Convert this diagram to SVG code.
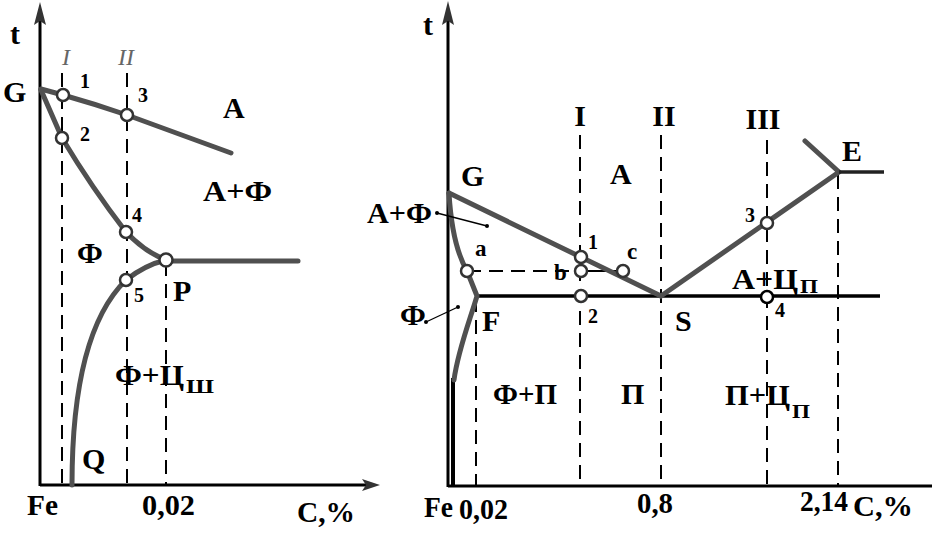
<svg xmlns="http://www.w3.org/2000/svg" width="938" height="533" viewBox="0 0 938 533">
<style>
.ax{stroke:#000;stroke-width:3;fill:none}
.cv{stroke:#505050;stroke-width:5;fill:none;stroke-linejoin:round;stroke-linecap:round}
.bk{stroke:#000;stroke-width:3.5;fill:none}
.ds{stroke:#000;stroke-width:2;fill:none;stroke-dasharray:14,8}
.pt{fill:#fff;stroke:#333;stroke-width:2.5}
.arr{fill:#333}
text{font-family:"Liberation Serif","Times New Roman",serif;font-weight:bold;fill:#000}
.big{font-size:30px}
.num{font-size:20px}
.lc{font-size:23px}
.sub{font-size:19px}
.it{font-style:italic;font-weight:normal;fill:#666;font-size:24px}
.ld{stroke:#000;stroke-width:1.3}
</style>

<g id="left-diagram">
  <g id="left-axes">
    <line class="ax" x1="40" y1="486" x2="40" y2="20"/>
    <polygon class="arr" points="40,2 34,25 40,21 46,25"/>
    <line class="ax" x1="40" y1="485" x2="368" y2="485"/>
    <polygon class="arr" points="380,485 362,479 366,485 362,491"/>
  </g>
  <g id="left-dashed">
    <line class="ds" x1="62" y1="73" x2="62" y2="485"/>
    <line class="ds" x1="127" y1="73" x2="127" y2="485"/>
    <line class="ds" x1="166" y1="262" x2="166" y2="485"/>
  </g>
  <g id="left-curves">
    <path class="cv" d="M41,89 L63,95 Q95,104 127,115 L231,153"/>
    <path class="cv" d="M41,90 L62,138 Q92,188 126,232 Q145,252 166,260"/>
    <path class="cv" d="M72,485 C72,400 85,320 126,280 Q145,265 166,260"/>
    <line class="cv" x1="166" y1="261" x2="298" y2="261"/>
  </g>
  <g id="left-points">
    <circle class="pt" cx="63" cy="95" r="6"/>
    <circle class="pt" cx="127" cy="115" r="6"/>
    <circle class="pt" cx="62" cy="138" r="6"/>
    <circle class="pt" cx="126" cy="232" r="6"/>
    <circle class="pt" cx="126" cy="280" r="6"/>
    <circle class="pt" cx="166" cy="260" r="6.5"/>
  </g>
  <g id="left-labels">
    <text class="big" x="10" y="44">t</text>
    <text class="big" x="3" y="102">G</text>
    <text class="it" x="66" y="65" text-anchor="middle">I</text>
    <text class="it" x="126" y="65" text-anchor="middle">II</text>
    <text class="num" x="80" y="88">1</text>
    <text class="num" x="138" y="102">3</text>
    <text class="num" x="80" y="141">2</text>
    <text class="num" x="132" y="222">4</text>
    <text class="num" x="134" y="302">5</text>
    <text class="big" x="173" y="301">P</text>
    <text class="big" x="82" y="469">Q</text>
    <text class="big" x="223" y="118">A</text>
    <text class="big" x="203" y="201" textLength="69" lengthAdjust="spacingAndGlyphs">A+Ф</text>
    <text class="big" x="77" y="263">Ф</text>
    <text class="big" x="115" y="385" textLength="69" lengthAdjust="spacingAndGlyphs">Ф+Ц</text>
    <text class="sub" x="186" y="393" textLength="28" lengthAdjust="spacingAndGlyphs">Ш</text>
    <text class="big" x="27" y="515" textLength="31" lengthAdjust="spacingAndGlyphs">Fe</text>
    <text class="big" x="142" y="515" textLength="53" lengthAdjust="spacingAndGlyphs">0,02</text>
    <text class="big" x="297" y="522" textLength="58" lengthAdjust="spacingAndGlyphs">C,%</text>
  </g>
</g>

<g id="right-diagram">
  <g id="right-axes">
    <line class="ax" x1="448" y1="487" x2="448" y2="20"/>
    <polygon class="arr" points="448,1 442,25 448,21 454,25"/>
    <line class="ax" x1="448" y1="486" x2="932" y2="486"/>
  </g>
  <g id="right-dashed">
    <line class="ds" x1="580" y1="135" x2="580" y2="486"/>
    <line class="ds" x1="661" y1="135" x2="661" y2="486"/>
    <line class="ds" x1="767" y1="140" x2="767" y2="486"/>
    <line class="ds" x1="838" y1="175" x2="838" y2="486"/>
    <line class="ds" x1="476" y1="298" x2="476" y2="486"/>
    <line class="ds" x1="467" y1="271" x2="581" y2="271"/>
  </g>
  <g id="right-lines">
    <line class="bk" x1="476" y1="296" x2="880" y2="296"/>
    <line class="bk" x1="453" y1="378" x2="453" y2="486" style="stroke-width:4"/>
    <line stroke="#000" stroke-width="2" x1="581" y1="271" x2="623" y2="271"/>
    <path class="cv" d="M449,193 L661,296"/>
    <path class="cv" d="M449,193 Q452,245 467,271 L477,296 C470,320 458,350 454,380"/>
    <path class="cv" d="M661,296 L839,172 L805,141"/>
    <line stroke="#222" stroke-width="3.5" x1="839" y1="172" x2="884" y2="172"/>
  </g>
  <g id="right-points">
    <circle class="pt" cx="581" cy="257" r="6"/>
    <circle class="pt" cx="581" cy="271" r="6"/>
    <circle class="pt" cx="581" cy="296" r="6"/>
    <circle class="pt" cx="623" cy="271" r="6"/>
    <circle class="pt" cx="467" cy="271" r="6"/>
    <circle class="pt" cx="767" cy="223" r="6"/>
    <circle class="pt" cx="767" cy="297" r="6" style="stroke:#000"/>
  </g>
  <g id="right-leaders">
    <line class="ld" x1="437" y1="213" x2="487" y2="226"/>
    <circle cx="437" cy="213" r="2"/>
    <circle cx="487" cy="226" r="2"/>
    <line class="ld" x1="426" y1="322" x2="458" y2="307"/>
    <circle cx="426" cy="322" r="2"/>
    <circle cx="458" cy="307" r="2"/>
  </g>
  <g id="right-labels">
    <text class="big" x="423" y="35">t</text>
    <text class="big" x="580" y="126" text-anchor="middle">I</text>
    <text class="big" x="664" y="126" text-anchor="middle">II</text>
    <text class="big" x="763" y="129" text-anchor="middle">III</text>
    <text class="big" x="461" y="186">G</text>
    <text class="big" x="610" y="184">A</text>
    <text class="big" x="367" y="223" textLength="65" lengthAdjust="spacingAndGlyphs">A+Ф</text>
    <text class="lc" x="475" y="256">a</text>
    <text class="num" x="588" y="249">1</text>
    <text class="lc" x="627" y="259">c</text>
    <text class="lc" x="554" y="280">b</text>
    <text class="num" x="588" y="323">2</text>
    <text class="big" x="482" y="331">F</text>
    <text class="big" x="675" y="331">S</text>
    <text class="num" x="745" y="222">3</text>
    <text class="num" x="775" y="317">4</text>
    <text class="big" x="842" y="161">E</text>
    <text class="big" x="732" y="289" textLength="66" lengthAdjust="spacingAndGlyphs">A+Ц</text>
    <text class="sub" x="800" y="293" textLength="18" lengthAdjust="spacingAndGlyphs">П</text>
    <text class="big" x="400" y="325">Ф</text>
    <text class="big" x="493" y="404" textLength="64" lengthAdjust="spacingAndGlyphs">Ф+П</text>
    <text class="big" x="621" y="404">П</text>
    <text class="big" x="725" y="405" textLength="65" lengthAdjust="spacingAndGlyphs">П+Ц</text>
    <text class="sub" x="792" y="418" textLength="18" lengthAdjust="spacingAndGlyphs">П</text>
    <text class="big" x="424" y="517" textLength="29" lengthAdjust="spacingAndGlyphs">Fe</text>
    <text class="big" x="459" y="519" textLength="49" lengthAdjust="spacingAndGlyphs">0,02</text>
    <text class="big" x="637" y="513" textLength="36" lengthAdjust="spacingAndGlyphs">0,8</text>
    <text class="big" x="800" y="511" textLength="48" lengthAdjust="spacingAndGlyphs">2,14</text>
    <text class="big" x="853" y="516" textLength="60" lengthAdjust="spacingAndGlyphs">C,%</text>
  </g>
</g>
</svg>
